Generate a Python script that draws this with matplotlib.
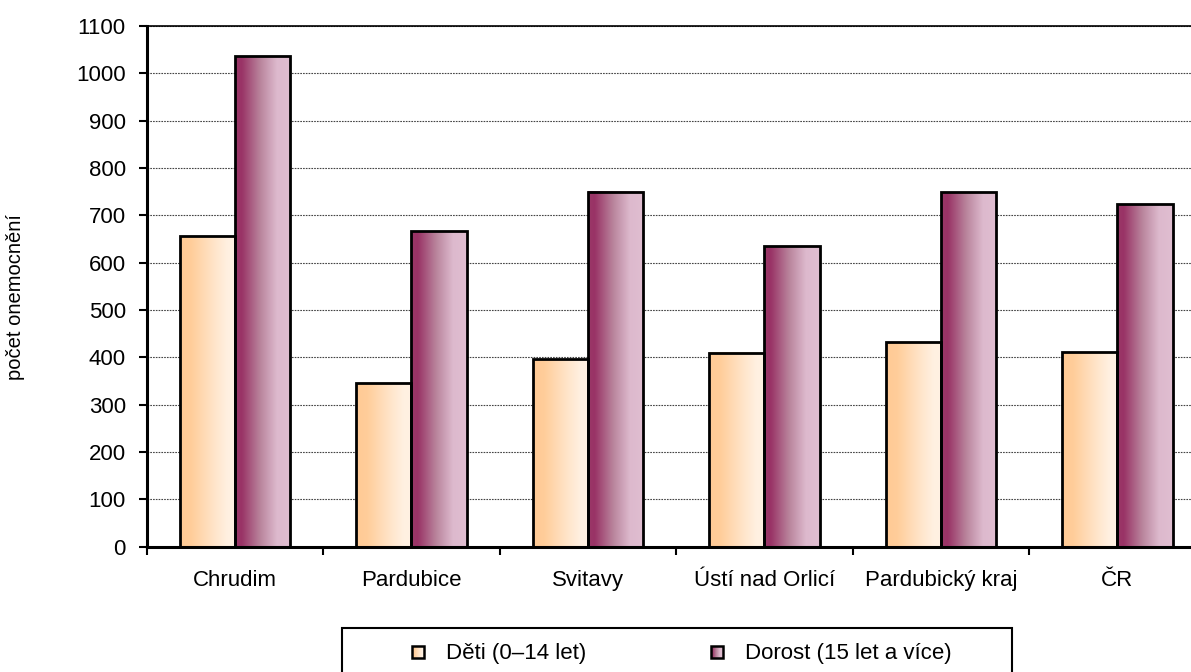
import numpy as np
import matplotlib
matplotlib.use('Agg')
import matplotlib.pyplot as plt
from matplotlib.colors import LinearSegmentedColormap
from matplotlib.legend_handler import HandlerPatch
from matplotlib.patches import Rectangle, Patch

plt.rcParams['font.family'] = ['Liberation Sans', 'DejaVu Sans']

# data
categories = ['Chrudim', 'Pardubice', 'Svitavy', 'Ústí nad Orlicí', 'Pardubický kraj', 'ČR']
deti = [657, 345, 396, 410, 433, 411]
dorost = [1037, 666, 750, 635, 749, 724]
series_names = ['Děti (0–14 let)', 'Dorost (15 let a více)']
yticks = list(range(0, 1101, 100))

deti_cmap = LinearSegmentedColormap.from_list('deti', [
    (0.0, '#FFCA95'), (0.2, '#FFCD9A'), (0.6, '#FFE4C8'), (0.85, '#FFF0E1'), (1.0, '#FFF1E3')])
dorost_cmap = LinearSegmentedColormap.from_list('dorost', [
    (0.0, '#9A3868'), (0.12, '#993366'), (0.45, '#B9849C'), (0.75, '#DDB9CD'), (1.0, '#E0BED1')])
grad = np.linspace(0, 1, 256).reshape(1, -1)


class GradientHandler(HandlerPatch):
    def __init__(self, cmap):
        super().__init__()
        self.cmap = cmap

    def create_artists(self, legend, orig_handle, xdescent, ydescent, width, height, fontsize, trans):
        side = 12 * 72 / 100
        x0 = -xdescent + (width - side) / 2
        y0 = -ydescent + (height - side) / 2
        arts = []
        n = 12
        for i in range(n):
            r = Rectangle((x0 + side * i / n, y0), side / n + 0.2, side,
                          facecolor=self.cmap((i + 0.5) / n), edgecolor='none', transform=trans)
            arts.append(r)
        arts.append(Rectangle((x0, y0), side, side, facecolor='none', edgecolor='black',
                              linewidth=1.8, transform=trans))
        return arts


W, H = 1191, 672
fig = plt.figure(figsize=(W / 100, H / 100), dpi=100)
ax = fig.add_axes([146.7 / W, 1 - 546.7 / H, 1059 / W, 520.7 / H])

x = np.arange(len(categories))
w = 0.3135
b1 = ax.bar(x - w / 2, deti, w, facecolor='none', edgecolor='black', linewidth=2, zorder=3)
b2 = ax.bar(x + w / 2, dorost, w, facecolor='none', edgecolor='black', linewidth=2, zorder=3)

for bars, cmap in [(b1, deti_cmap), (b2, dorost_cmap)]:
    for p in bars:
        x0, y0 = p.get_x(), p.get_y()
        ax.imshow(grad, cmap=cmap, aspect='auto', extent=(x0, x0 + p.get_width(), y0, y0 + p.get_height()),
                  zorder=2, interpolation='bilinear')

ax.set_xlim(-0.5, len(categories) - 0.5)
ax.set_ylim(0, 1100)
ax.set_yticks(yticks)
ax.set_xticks(np.arange(len(categories) + 1) - 0.5)
ax.set_xticklabels([])
ax.set_xticks(x, minor=True)
ax.set_xticklabels(categories, minor=True)
ax.tick_params(axis='x', which='minor', length=0, pad=16.5, labelsize=16)
ax.tick_params(axis='x', which='major', direction='out', length=6, width=1.5)
ax.tick_params(axis='y', direction='out', length=6, width=1.5, labelsize=16, pad=9)

ax.grid(axis='y', color='#444444', linestyle=(0, (1.5, 1)), linewidth=0.8, zorder=1)
ax.set_axisbelow(True)
for s in ['left', 'bottom']:
    ax.spines[s].set_linewidth(2.2)
ax.spines['top'].set_linewidth(1.2)
ax.spines['right'].set_linewidth(1.2)

ax.set_ylabel('počet onemocnění', fontsize=14.5)
ax.yaxis.set_label_coords((25 - 146.7) / 1059, 0.48)

handles = [Patch(label=series_names[0]), Patch(label=series_names[1])]
leg = fig.legend(handles=handles, loc='center left', bbox_to_anchor=(412 / W, 1 - 654 / H), ncol=2,
                 fontsize=16, frameon=False,
                 handlelength=0.54, handleheight=0.7, handletextpad=1.0, columnspacing=5.6,
                 borderpad=0, borderaxespad=0,
                 handler_map={handles[0]: GradientHandler(deti_cmap), handles[1]: GradientHandler(dorost_cmap)})

# legend frame, runs off the bottom edge like in the original
fig.patches.append(Rectangle((342.5 / W, -0.02), (1012 - 342.5) / W, 0.02 + (H - 628) / H,
                             transform=fig.transFigure, facecolor='none', edgecolor='black',
                             linewidth=1.5))

fig.savefig('out.png', dpi=100)
